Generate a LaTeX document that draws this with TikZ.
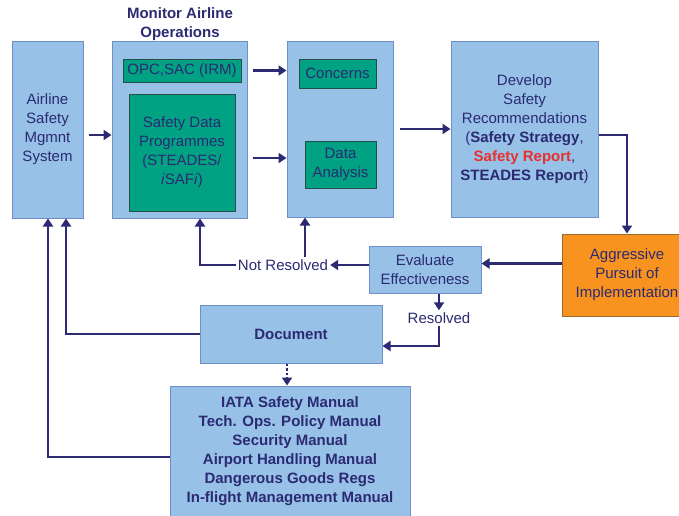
\documentclass[tikz,border=0pt]{standalone}
\usepackage{fontspec}
\setmainfont{Liberation Sans}
\usetikzlibrary{arrows.meta,calc}
\definecolor{navy}{HTML}{2B2A72}
\definecolor{lblue}{HTML}{97C1E7}
\definecolor{bblue}{HTML}{6E8FCB}
\definecolor{teal2}{HTML}{00A283}
\definecolor{tealb}{HTML}{244E48}
\definecolor{orng}{HTML}{F7931E}
\definecolor{orngb}{HTML}{9A6A2A}
\definecolor{rred}{HTML}{E8302E}
\tikzset{
  bluebox/.style={draw=bblue, fill=lblue, line width=1pt, inner sep=0pt, align=center, text=navy},
  greenbox/.style={draw=tealb, fill=teal2, line width=1pt, inner sep=0pt, align=center, text=navy},
  orangebox/.style={draw=orngb, fill=orng, line width=1pt, inner sep=0pt, align=center, text=navy},
  lbl/.style={text=navy, align=center, inner sep=2pt},
  arr/.style={draw=navy, line width=2.6pt, -{Triangle[length=8pt,width=10pt]}},
}
\begin{document}
\begin{tikzpicture}[x=1pt,y=-1pt,font=\fontsize{15}{19}\selectfont]
\useasboundingbox (0,0) rectangle (679,515);
% boxes
\node[bluebox, minimum width=71pt, minimum height=177pt] (asms) at (47.5,129.5) {Airline\\Safety\\Mgmnt\\System};
\node[lbl, font=\fontsize{15}{19}\selectfont\bfseries] (title) at (180,24) {Monitor Airline\\Operations};
\node[bluebox, minimum width=135pt, minimum height=177pt] (mon) at (179.5,129.5) {};
\node[greenbox, minimum width=118pt, minimum height=23pt] (opc) at (182,70.5) {OPC,SAC (IRM)};
\node[greenbox, minimum width=106pt, minimum height=117pt] (sdp) at (182,152.5) {Safety Data\\Programmes\\(STEADES/\\\textit{i}SAF\textit{i})};
\node[bluebox, minimum width=106pt, minimum height=176pt] (mid) at (340,129) {};
\node[greenbox, minimum width=77pt, minimum height=29pt] (conc) at (337.5,73.5) {Concerns};
\node[greenbox, minimum width=71pt, minimum height=47pt] (da) at (340.5,164.5) {Data\\Analysis};
\node[bluebox, minimum width=147pt, minimum height=176pt] (dev) at (524.5,129) {Develop\\Safety\\Recommendations\\(\textbf{Safety Strategy},\\\textbf{\textcolor{rred}{Safety Report}},\\\textbf{STEADES Report})};
\node[orangebox, minimum width=130pt, minimum height=82pt] (org) at (627,275) {Aggressive\\Pursuit of\\Implementation};
\node[bluebox, minimum width=112pt, minimum height=47pt] (eval) at (425,269.5) {Evaluate\\Effectiveness};
\node[lbl] (notres) at (283,265) {Not Resolved};
\node[lbl] (res) at (439,318) {Resolved};
\node[bluebox, minimum width=182pt, minimum height=58pt, font=\fontsize{15}{19}\selectfont\bfseries] (doc) at (291,334) {Document};
\node[bluebox, minimum width=240pt, minimum height=130pt, font=\fontsize{15}{19}\selectfont\bfseries] (man) at (290,451) {IATA Safety Manual\\Tech. Ops. Policy Manual\\Security Manual\\Airport Handling Manual\\Dangerous Goods Regs\\In-flight Management Manual};
% connectors
\draw[arr, shorten <=5pt] ([yshift=-5.5pt]asms.east) -- ([yshift=-5.5pt]mon.west);
\draw[arr, shorten <=5pt] (mon.east |- opc) -- (mid.west |- opc);
\draw[arr, shorten <=5pt] ([yshift=-5.5pt]mon.east |- sdp) -- ([yshift=-5.5pt]mid.west |- sdp);
\draw[arr, shorten <=6pt] (mid.east) -- (dev.west);
\draw[arr] ([yshift=-6pt]dev.east) -| (org.north);
\draw[arr] ([yshift=6pt]eval.east -| org.west) -- ([yshift=6pt]eval.east);
\draw[arr] (eval.west |- notres) -- (notres.east);
\draw[arr] (notres.west) -| ([xshift=20.5pt]mon.south);
\draw[arr] ([xshift=-35pt]mid.south |- notres.north) -- ([xshift=-35pt]mid.south);
\draw[arr] ([xshift=14pt]eval.south) -- (res.north);
\draw[arr] (res.south) |- ([yshift=-12pt]doc.east);
\draw[arr] (doc.west) -| ([xshift=18.5pt]asms.south);
\draw[arr] ([yshift=-6pt]man.west) -| ([xshift=0.5pt]asms.south);
\draw[arr, dotted, line width=2pt] ([xshift=-4pt]doc.south) -- ([xshift=-4pt]doc.south |- man.north);
\end{tikzpicture}
\end{document}
